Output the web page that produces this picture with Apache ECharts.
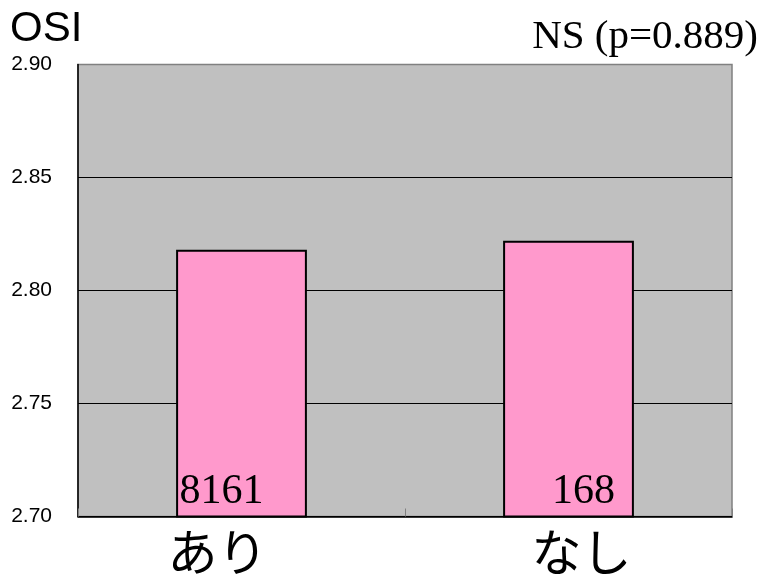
<!DOCTYPE html>
<html>
<head>
<meta charset="utf-8">
<script src="https://cdn.jsdelivr.net/npm/echarts@6/dist/echarts.min.js"></script>
<style>
  html, body { margin: 0; padding: 0; background: #fff; }
  #main { width: 767px; height: 584px; }
</style>
</head>
<body>
<div id="main"></div>
<script>
// カテゴリと値
var categories = ['あり', 'なし'];
var osiValues = [2.818, 2.822];
var counts = ['8161', '168'];
var labelShift = [-20, 15];   // ラベルの横ずれ
var catShift = [-24, 13];     // カテゴリ名の横ずれ
var yTicks = { min: 2.70, max: 2.90, step: 0.05 };
var yTitle = 'OSI';
var pText = 'NS (p=0.889)';

var barData = [];
var catData = [];
for (var i = 0; i < osiValues.length; i++) {
	barData.push({
		value: osiValues[i],
		label: { offset: [labelShift[i], 0] }
	});
	var s = catShift[i];
	catData.push({
		value: categories[i],
		textStyle: { padding: s < 0 ? [0, -2 * s, 0, 0] : [0, 0, 0, 2 * s] }
	});
}

var myChart = echarts.init(document.getElementById('main'));
var option = {
	animation: false,
	backgroundColor: '#fff',
	grid: {
		left: 78,
		right: 35,
		top: 64.5,
		bottom: 67.5,
		show: true,
		backgroundColor: '#c0c0c0',
		borderColor: '#808080',
		borderWidth: 1.5
	},
	graphic: [
		{
			type: 'text',
			left: 10,
			top: 8,
			style: { text: yTitle, fontFamily: 'Liberation Sans', fontSize: 42, fill: '#000' }
		},
		{
			type: 'text',
			right: 9,
			top: 17,
			style: { text: pText, fontFamily: 'Liberation Serif', fontSize: 41, fill: '#000' }
		}
	],
	xAxis: {
		type: 'category',
		data: catData,
		axisLine: { lineStyle: { color: '#000', width: 1.5 } },
		axisTick: { show: true, inside: true, length: 8, lineStyle: { color: '#808080' } },
		axisLabel: {
			fontFamily: 'Noto Sans CJK JP',
			fontSize: 50,
			color: '#000',
			margin: 10
		}
	},
	yAxis: {
		type: 'value',
		min: yTicks.min,
		max: yTicks.max,
		interval: yTicks.step,
		axisLine: { show: true, lineStyle: { color: '#000', width: 1.5 } },
		axisTick: { show: false },
		axisLabel: {
			fontFamily: 'Liberation Sans',
			fontSize: 21,
			color: '#000',
			margin: 26,
			formatter: function (v) { return v.toFixed(2); }
		},
		splitLine: {
			show: true,
			showMaxLine: false,
			lineStyle: { color: '#000', width: 1 }
		}
	},
	series: [
		{
			type: 'bar',
			data: barData,
			barWidth: '40%',
			itemStyle: { color: '#ff99cc', borderColor: '#000', borderWidth: 2 },
			label: {
				show: true,
				position: 'insideBottom',
				distance: 5,
				fontFamily: 'Liberation Serif',
				fontSize: 42,
				color: '#000',
				formatter: function (p) { return counts[p.dataIndex]; }
			}
		}
	]
};
myChart.setOption(option);
</script>
</body>
</html>
